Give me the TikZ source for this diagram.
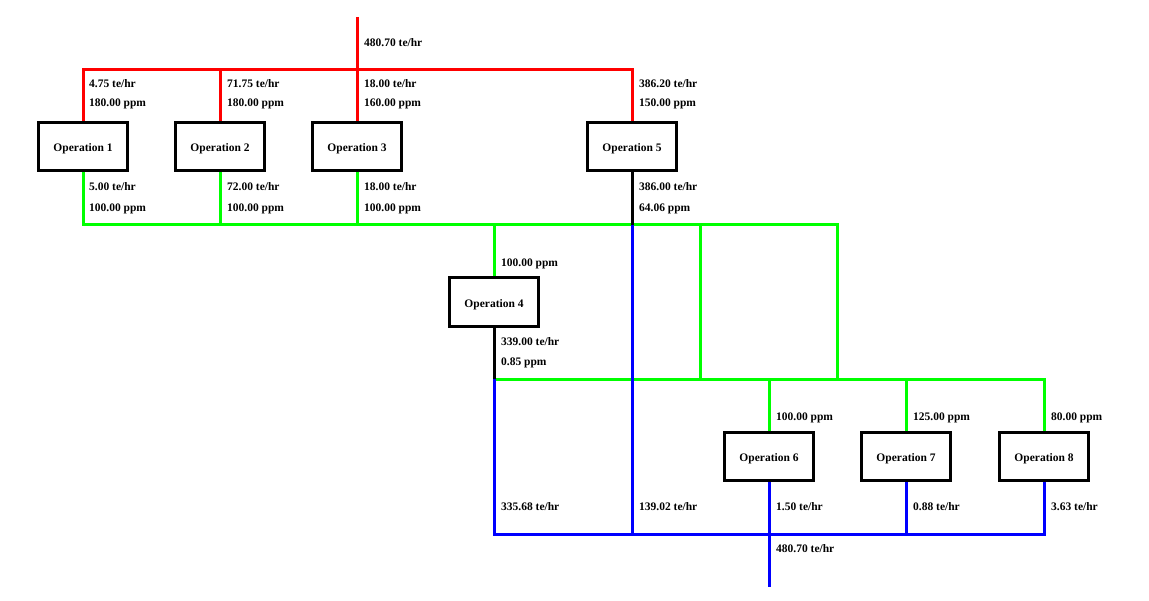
\documentclass[tikz,border=0pt]{standalone}
\usepackage{fontspec}
\setmainfont{Liberation Serif}
\usetikzlibrary{backgrounds}
\definecolor{pred}{RGB}{255,0,0}
\definecolor{pgreen}{RGB}{0,255,0}
\definecolor{pblue}{RGB}{0,0,255}
\begin{document}
\begin{tikzpicture}[x=1bp,y=-1bp,
  op/.style={draw=black,fill=white,line width=3bp,minimum width=89bp,minimum height=48bp,inner sep=0pt,text height=10.6bp,text depth=0pt,font=\fontsize{11.5bp}{13bp}\selectfont\bfseries},
  lbl/.style={anchor=base west,inner sep=0pt,font=\fontsize{11.5bp}{13bp}\selectfont\bfseries},
  pipe/.style={line width=3bp,line cap=butt,line join=miter},
  redl/.style={pipe,draw=pred},
  greenl/.style={pipe,draw=pgreen},
  bluel/.style={pipe,draw=pblue},
  blackl/.style={pipe,draw=black}]
\useasboundingbox (0,0) rectangle (1149,601);
% boxes
\node[op] (o1) at (83,146.5) {Operation 1};
\node[op] (o2) at (220,146.5) {Operation 2};
\node[op] (o3) at (357,146.5) {Operation 3};
\node[op] (o5) at (632,146.5) {Operation 5};
\node[op] (o4) at (494,302) {Operation 4};
\node[op] (o6) at (769,456.5) {Operation 6};
\node[op] (o7) at (906,456.5) {Operation 7};
\node[op] (o8) at (1044,456.5) {Operation 8};
% coordinates
\coordinate (rtop) at (357,17);
\coordinate (r1) at (83,70);
\coordinate (r2) at (220,70);
\coordinate (r3) at (357,70);
\coordinate (r5) at (632,70);
\coordinate (g1) at (83,225);
\coordinate (g2) at (220,225);
\coordinate (g3) at (357,225);
\coordinate (g4) at (494,225);
\coordinate (g5) at (632,225);
\coordinate (ga) at (700,225);
\coordinate (gb) at (837,225);
\coordinate (h4) at (494,379);
\coordinate (ha) at (700,379);
\coordinate (hb) at (837,379);
\coordinate (h6) at (769,379);
\coordinate (h7) at (906,379);
\coordinate (h8) at (1044,379);
\coordinate (b4) at (494,534);
\coordinate (b5) at (632,534);
\coordinate (b6) at (769,534);
\coordinate (b7) at (906,534);
\coordinate (b8) at (1044,534);
\coordinate (bout) at (769,587);
\begin{pgfonlayer}{background}
\begin{scope}[x=1bp,y=-1bp]
% red
\draw[redl] (rtop) -- (r3);
\draw[redl] (o1.north) -- (r1) -- (r5) -- (o5.north);
\draw[redl] (r2) -- (o2.north);
\draw[redl] (r3) -- (o3.north);
% green
\draw[greenl] (o1.south) -- (g1) -- (gb) -- (hb);
\draw[greenl] (o2.south) -- (g2);
\draw[greenl] (o3.south) -- (g3);
\draw[greenl] (g4) -- (o4.north);
\draw[greenl] (ga) -- (ha);
\draw[greenl] (h4) -- (h8) -- (o8.north);
\draw[greenl] (h6) -- (o6.north);
\draw[greenl] (h7) -- (o7.north);
% black
\draw[blackl] (o5.south) -- (g5);
\draw[blackl] (o4.south) -- (h4);
% blue
\draw[bluel] (g5) -- (b5);
\draw[bluel] (h4) -- (b4) -- (b8) -- (o8.south);
\draw[bluel] (o6.south) -- (b6);
\draw[bluel] (o7.south) -- (b7);
\draw[bluel] (b6) -- (bout);
\end{scope}
\end{pgfonlayer}
% labels
\node[lbl] (l0) at (364,47) {480.70 te/hr};
\node[lbl] (l1a) at (89,88) {4.75 te/hr};
\node[lbl] (l1b) at (89,107) {180.00 ppm};
\node[lbl] (l2a) at (227,88) {71.75 te/hr};
\node[lbl] (l2b) at (227,107) {180.00 ppm};
\node[lbl] (l3a) at (364,88) {18.00 te/hr};
\node[lbl] (l3b) at (364,107) {160.00 ppm};
\node[lbl] (l5a) at (639,88) {386.20 te/hr};
\node[lbl] (l5b) at (639,107) {150.00 ppm};
\node[lbl] (m1a) at (89,191) {5.00 te/hr};
\node[lbl] (m1b) at (89,212) {100.00 ppm};
\node[lbl] (m2a) at (227,191) {72.00 te/hr};
\node[lbl] (m2b) at (227,212) {100.00 ppm};
\node[lbl] (m3a) at (364,191) {18.00 te/hr};
\node[lbl] (m3b) at (364,212) {100.00 ppm};
\node[lbl] (m5a) at (639,191) {386.00 te/hr};
\node[lbl] (m5b) at (639,212) {64.06 ppm};
\node[lbl] (n4) at (501,267) {100.00 ppm};
\node[lbl] (p4a) at (501,345) {339.00 te/hr};
\node[lbl] (p4b) at (501,365) {0.85 ppm};
\node[lbl] (n6) at (776,420) {100.00 ppm};
\node[lbl] (n7) at (913,420) {125.00 ppm};
\node[lbl] (n8) at (1051,420) {80.00 ppm};
\node[lbl] (q4) at (501,510) {335.68 te/hr};
\node[lbl] (q5) at (639,510) {139.02 te/hr};
\node[lbl] (q6) at (776,510) {1.50 te/hr};
\node[lbl] (q7) at (913,510) {0.88 te/hr};
\node[lbl] (q8) at (1051,510) {3.63 te/hr};
\node[lbl] (qo) at (776,552) {480.70 te/hr};
\end{tikzpicture}
\end{document}
